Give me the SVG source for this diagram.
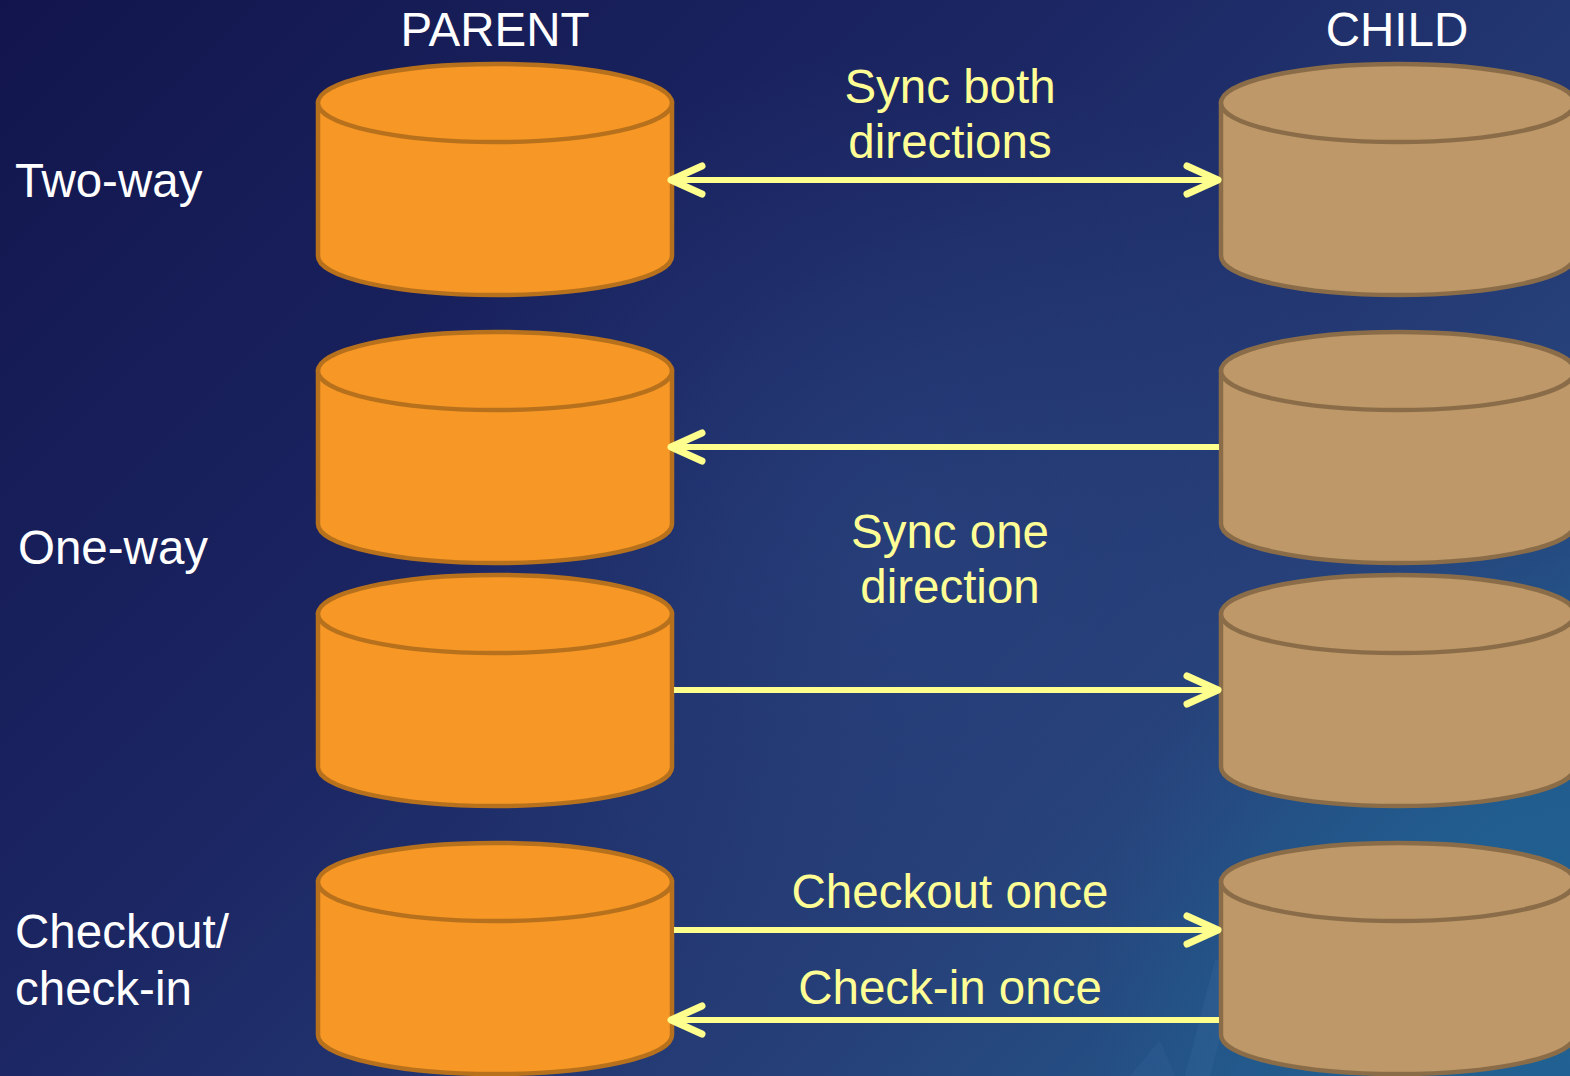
<svg xmlns="http://www.w3.org/2000/svg" width="1570" height="1076" viewBox="0 0 1570 1076">
  <defs>
    <linearGradient id="bg" x1="0" y1="0" x2="1" y2="0.7">
      <stop offset="0" stop-color="#12154D"/>
      <stop offset="0.45" stop-color="#1B2663"/>
      <stop offset="0.8" stop-color="#263F78"/>
      <stop offset="1" stop-color="#245588"/>
    </linearGradient>
    <radialGradient id="glow" cx="1570" cy="1000" r="480" gradientUnits="userSpaceOnUse">
      <stop offset="0" stop-color="#1E6A9A" stop-opacity="0.65"/>
      <stop offset="1" stop-color="#1E6A9A" stop-opacity="0"/>
    </radialGradient>
    <radialGradient id="glow2" cx="900" cy="550" r="500" gradientUnits="userSpaceOnUse">
      <stop offset="0" stop-color="#2C4A85" stop-opacity="0.5"/>
      <stop offset="1" stop-color="#2C4A85" stop-opacity="0"/>
    </radialGradient>
    <marker id="head" viewBox="-40 -20 48 40" refX="0" refY="0" markerWidth="48" markerHeight="40" markerUnits="userSpaceOnUse" orient="auto-start-reverse">
      <path d="M-31,-14 L0,0 L-31,14" fill="none" stroke="#FFFF8E" stroke-width="7" stroke-linecap="round" stroke-linejoin="round"/>
    </marker>
  </defs>
  <style>
    .lbl { font-family: "Liberation Sans", Arial, sans-serif; font-size: 47.5px; fill: #FFFFFF; }
    .ylw { font-family: "Liberation Sans", Arial, sans-serif; font-size: 47.5px; fill: #FFFF96; text-anchor: middle; }
    .mid { text-anchor: middle; }
    .par { fill: #F79726; stroke: #B7711D; stroke-width: 4.5; }
    .chd { fill: #BE9869; stroke: #8A6D48; stroke-width: 4.5; }
    .conn line { stroke: #FFFF8E; stroke-width: 6; fill: none; }
  </style>

  <rect x="0" y="0" width="1570" height="1076" fill="url(#bg)"/>
  <rect x="0" y="0" width="1570" height="1076" fill="url(#glow2)"/>
  <rect x="0" y="0" width="1570" height="1076" fill="url(#glow)"/>
  <path d="M1215,960 L1240,960 L1210,1076 L1185,1076 Z" fill="#3A6A9E" opacity="0.25"/>
  <path d="M1130,1076 L1160,1040 L1175,1076 Z" fill="#3A6A9E" opacity="0.2"/>

  <g id="headers">
    <text class="lbl mid" x="495" y="46">PARENT</text>
    <text class="lbl mid" x="1397" y="46">CHILD</text>
  </g>
  <g id="row-labels">
    <text class="lbl" x="15" y="197">Two-way</text>
    <text class="lbl" x="18" y="564">One-way</text>
    <text class="lbl" x="15" y="948">Checkout/</text>
    <text class="lbl" x="15" y="1005">check-in</text>
  </g>

  <g id="parent1">
    <path class="par" d="M318,103 V256 A177,39 0 0 0 672,256 V103 Z"/>
    <ellipse class="par" cx="495" cy="103" rx="177" ry="39"/>
  </g>
  <g id="parent2">
    <path class="par" d="M318,371 V524 A177,39 0 0 0 672,524 V371 Z"/>
    <ellipse class="par" cx="495" cy="371" rx="177" ry="39"/>
  </g>
  <g id="parent3">
    <path class="par" d="M318,614 V767 A177,39 0 0 0 672,767 V614 Z"/>
    <ellipse class="par" cx="495" cy="614" rx="177" ry="39"/>
  </g>
  <g id="parent4">
    <path class="par" d="M318,882 V1035 A177,39 0 0 0 672,1035 V882 Z"/>
    <ellipse class="par" cx="495" cy="882" rx="177" ry="39"/>
  </g>

  <g id="child1">
    <path class="chd" d="M1221,103 V256 A177,39 0 0 0 1575,256 V103 Z"/>
    <ellipse class="chd" cx="1398" cy="103" rx="177" ry="39"/>
  </g>
  <g id="child2">
    <path class="chd" d="M1221,371 V524 A177,39 0 0 0 1575,524 V371 Z"/>
    <ellipse class="chd" cx="1398" cy="371" rx="177" ry="39"/>
  </g>
  <g id="child3">
    <path class="chd" d="M1221,614 V767 A177,39 0 0 0 1575,767 V614 Z"/>
    <ellipse class="chd" cx="1398" cy="614" rx="177" ry="39"/>
  </g>
  <g id="child4">
    <path class="chd" d="M1221,882 V1035 A177,39 0 0 0 1575,1035 V882 Z"/>
    <ellipse class="chd" cx="1398" cy="882" rx="177" ry="39"/>
  </g>

  <g id="connectors" class="conn">
    <line x1="671" y1="180" x2="1218" y2="180" marker-start="url(#head)" marker-end="url(#head)"/>
    <line x1="1219" y1="447" x2="671" y2="447" marker-end="url(#head)"/>
    <line x1="674" y1="690" x2="1218" y2="690" marker-end="url(#head)"/>
    <line x1="674" y1="930" x2="1218" y2="930" marker-end="url(#head)"/>
    <line x1="1219" y1="1020" x2="671" y2="1020" marker-end="url(#head)"/>
  </g>

  <g id="connector-labels">
    <text class="ylw" x="950" y="103">Sync both</text>
    <text class="ylw" x="950" y="158">directions</text>
    <text class="ylw" x="950" y="548">Sync one</text>
    <text class="ylw" x="950" y="603">direction</text>
    <text class="ylw" x="950" y="908">Checkout once</text>
    <text class="ylw" x="950" y="1004">Check-in once</text>
  </g>
</svg>
